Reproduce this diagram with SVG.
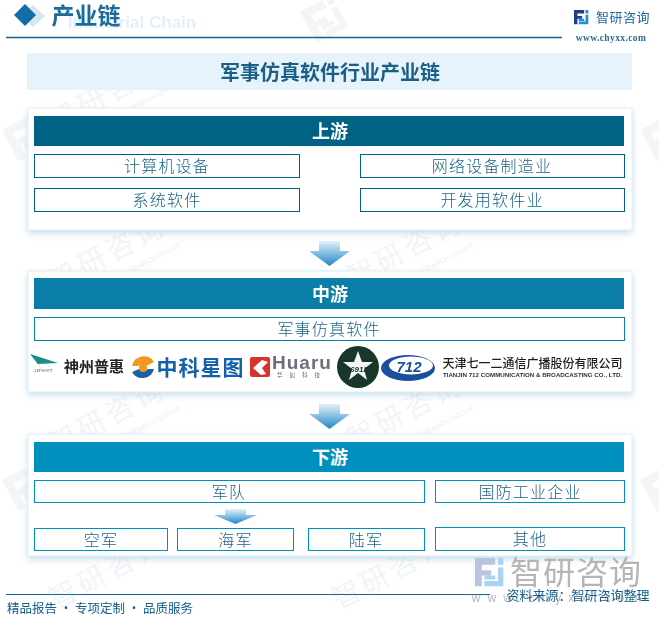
<svg xmlns="http://www.w3.org/2000/svg" width="659" height="623" viewBox="0 0 659 623">
<style>
text{font-family:"Noto Sans CJK SC","Noto Sans",sans-serif;text-anchor:middle}
.serif{font-family:"Liberation Serif","Noto Sans CJK SC",serif;font-weight:700}
.panel{fill:#fff;stroke:#deedf7;stroke-width:1;filter:url(#sh)}
.hd{fill:#fff;font-size:18px;font-weight:700}
.lb{font-size:16px;fill:#1a6285;font-weight:300;letter-spacing:1.200px}
.b1,.b2,.b3{fill:#fff;stroke-width:1}
.b1{stroke:#006385}.b2{stroke:#0a7ea6}.b3{stroke:#0090bd}
.wm{font-size:28px;fill:#8a9aa8;opacity:.1;letter-spacing:4px}
.wm2{font-size:7px;fill:#8a9aa8;opacity:.16;font-family:"Liberation Sans",sans-serif}
</style>
<defs>
<filter id="sh" x="-5%" y="-10%" width="110%" height="125%"><feDropShadow dx="0" dy="3" stdDeviation="3" flood-color="#9cc6e2" flood-opacity=".55"/></filter>
<linearGradient id="ag" x1="0" y1="0" x2="0" y2="1"><stop offset="0" stop-color="#e4f2fb"/><stop offset="1" stop-color="#1f86c8"/></linearGradient>
<path id="arrow" d="M-10 0H11V10H21L0.500 25L-20 10H-10Z" fill="url(#ag)"/>
<path id="markA" d="M0 0H15V5H5V9H12V13H5V21H0Z"/>
<path id="markB" d="M17 0H21V5H17ZM17 7H21V21H7V17H17ZM7 13H15V16H7Z"/>
</defs>
<rect width="659" height="623" fill="#fff"/>
<g id="watermarks">
<text class="wm" x="112" y="102" transform="rotate(-28 112 102)">智研咨询</text>
<text class="wm" x="112" y="262" transform="rotate(-28 112 262)">智研咨询</text>
<text class="wm" x="112" y="425" transform="rotate(-28 112 425)">智研咨询</text>
<text class="wm" x="112" y="580" transform="rotate(-28 112 580)">智研咨询</text>
<text class="wm" x="410" y="258" transform="rotate(-28 410 258)">智研咨询</text>
<text class="wm" x="410" y="420" transform="rotate(-28 410 420)">智研咨询</text>
<text class="wm" x="395" y="580" transform="rotate(-28 395 580)">智研咨询</text>
<text class="wm2" x="152" y="100" transform="rotate(-28 152 100)">RESEARCH GROUP</text>
<text class="wm2" x="152" y="262" transform="rotate(-28 152 262)">RESEARCH GROUP</text>
<text class="wm2" x="152" y="425" transform="rotate(-28 152 425)">RESEARCH GROUP</text>
<text class="wm2" x="445" y="262" transform="rotate(-28 445 262)">RESEARCH GROUP</text>
<text class="wm2" x="445" y="425" transform="rotate(-28 445 425)">RESEARCH GROUP</text>
<g fill="#8a9aa8" opacity=".1">
<use href="#markA" transform="translate(2 130) rotate(-28) scale(1.700)"/><use href="#markB" transform="translate(2 130) rotate(-28) scale(1.700)"/>
<use href="#markA" transform="translate(2 480) rotate(-28) scale(1.700)"/><use href="#markB" transform="translate(2 480) rotate(-28) scale(1.700)"/>
<use href="#markA" transform="translate(300 12) rotate(-28) scale(1.700)"/><use href="#markB" transform="translate(300 12) rotate(-28) scale(1.700)"/>
<use href="#markA" transform="translate(640 130) rotate(-28) scale(1.700)"/>
<use href="#markA" transform="translate(640 480) rotate(-28) scale(1.700)"/>
</g>
</g>
<g id="header">
<text x="132" y="28" font-size="17" font-weight="700" fill="#e3f0fa" style="font-family:'Liberation Sans',sans-serif">Industrial Chain</text>
<path d="M33 5L45 16L33 27L21 16Z" fill="#d5e6f1"/>
<path d="M25 4L36 15L25 26L14 15Z" fill="#126ca6"/>
<text class="serif" x="86" y="24" font-size="23" fill="#1a6a9a">产业链</text>
<line x1="6" y1="37.500" x2="562" y2="37.500" stroke="#1a5f85" stroke-width="1.300"/>
<g id="brand">
<use href="#markA" fill="#1d3f8a" transform="translate(574 10) scale(.68)"/>
<use href="#markB" fill="#1e8fd5" transform="translate(574 10) scale(.68)"/>
<text x="623" y="22" font-size="13" fill="#1a6a9a" letter-spacing=".5">智研咨询</text>
<text x="611" y="41" font-size="9.500" class="serif" fill="#2d6b8f" letter-spacing=".4">www.chyxx.com</text>
</g>
</g>
<g id="title">
<rect x="27" y="53" width="605" height="37" fill="#e6f3fb"/>
<text class="serif" x="330" y="80" font-size="20" fill="#1a5f85">军事仿真软件行业产业链</text>
</g>
<g id="upstream">
<rect class="panel" x="28" y="108" width="604" height="122"/>
<rect x="34" y="116" width="590" height="30" fill="#006385"/>
<text class="hd" x="330" y="138">上游</text>
</g>
<g id="up-1"><rect class="b1" x="34.500" y="154.500" width="265" height="23"/><text class="lb" x="167" y="172">计算机设备</text></g>
<g id="up-2"><rect class="b1" x="360.500" y="154.500" width="264" height="23"/><text class="lb" x="492" y="172">网络设备制造业</text></g>
<g id="up-3"><rect class="b1" x="34.500" y="188.500" width="265" height="23"/><text class="lb" x="167" y="206">系统软件</text></g>
<g id="up-4"><rect class="b1" x="360.500" y="188.500" width="264" height="23"/><text class="lb" x="492" y="206">开发用软件业</text></g>
<g id="midstream">
<rect class="panel" x="28" y="271" width="604" height="121"/>
<rect x="34" y="278" width="590" height="31" fill="#0a7ea6"/>
<text class="hd" x="330" y="301">中游</text>
</g>
<g id="mid-1"><rect class="b2" x="34.500" y="317.500" width="590" height="23"/><text class="lb" x="329" y="335">军事仿真软件</text></g>
<g id="logos">
<g id="logo-appsoft">
<path d="M30 354L58 363L38 364L44 372Z" fill="#1b8c8a"/>
<text x="43" y="372" font-size="4.500" fill="#555" style="font-family:'Liberation Serif',serif">APPSOFT</text>
<text x="94" y="372" font-size="15" font-weight="700" fill="#222">神州普惠</text>
</g>
<g id="logo-geovis">
<path d="M132 366A12 12 0 0 1 154 362L146 366A6 6 0 0 0 138 366Z" fill="#ef9a1f"/>
<path d="M154 369A12 12 0 0 1 132 372L139 369A6 6 0 0 0 148 369Z" fill="#1b5fa8"/>
<circle cx="143" cy="368" r="4" fill="#ef9a1f"/>
<text x="200.500" y="375" font-size="21" font-weight="700" fill="#1560ab" letter-spacing="1">中科星图</text>
</g>
<g id="logo-huaru">
<rect x="250" y="357" width="20" height="20" rx="2" fill="#d8322c"/>
<path d="M253 368L262 360L268 362L262 368L266 374L261 375Z" fill="#fff"/>
<text x="302" y="369" font-size="19" font-weight="700" fill="#6a6f78" letter-spacing="1" style="font-family:'Liberation Sans',sans-serif">Huaru</text>
<text x="302" y="377" font-size="5.500" fill="#666" letter-spacing="7">华如科技</text>
</g>
<g id="logo-6912">
<circle cx="358" cy="367" r="21" fill="#17372a"/>
<path d="M358 351L362 362L373 362L364 369L367 380L358 373L349 380L352 369L343 362L354 362Z" fill="#f2f5f2"/>
<text x="359" y="372" font-size="8" font-weight="700" font-style="italic" fill="#17372a" style="font-family:'Liberation Sans',sans-serif">6912</text>
</g>
<g id="logo-712">
<ellipse cx="408" cy="368" rx="27" ry="13" fill="#1a4f9e"/>
<ellipse cx="411" cy="365.500" rx="22" ry="9" fill="#fff"/>
<text x="409" y="372" font-size="15" font-weight="700" font-style="italic" fill="#1a4f9e" style="font-family:'Liberation Sans',sans-serif">712</text>
<text x="532.500" y="368" font-size="12" font-weight="500" fill="#1c1c1c">天津七一二通信广播股份有限公司</text>
<text x="532.500" y="377" font-size="6.200" font-weight="700" fill="#333" style="font-family:'Liberation Sans',sans-serif">TIANJIN 712 COMMUNICATION &amp; BROADCASTING CO., LTD.</text>
</g>
</g>
<g id="downstream">
<rect class="panel" x="28" y="434" width="604" height="122"/>
<rect x="34" y="442" width="590" height="30" fill="#0090bd"/>
<text class="hd" x="330" y="464">下游</text>
</g>
<g id="connectors">
<use href="#arrow" x="329" y="241"/>
<use href="#arrow" x="329" y="404"/>
<path d="M225 509H246V515H257L235.500 524L214 515H225Z" fill="url(#ag)"/>
</g>
<g id="down-1"><rect class="b3" x="34.500" y="480.500" width="390" height="22"/><text class="lb" x="229" y="498">军队</text></g>
<g id="down-2"><rect class="b3" x="435.500" y="480.500" width="189" height="22"/><text class="lb" x="530" y="498">国防工业企业</text></g>
<g id="down-3"><rect class="b3" x="34.500" y="528.500" width="133" height="22"/><text class="lb" x="101" y="546">空军</text></g>
<g id="down-4"><rect class="b3" x="177.500" y="528.500" width="116" height="22"/><text class="lb" x="235.500" y="546">海军</text></g>
<g id="down-5"><rect class="b3" x="308.500" y="528.500" width="116" height="22"/><text class="lb" x="366" y="546">陆军</text></g>
<g id="down-6"><rect class="b3" x="435.500" y="527.500" width="189" height="23"/><text class="lb" x="530" y="545">其他</text></g>
<g id="footer">
<use href="#markA" fill="#b9c5dc" transform="translate(475 558) scale(1.350)"/>
<use href="#markB" fill="#a9d3f0" transform="translate(475 558) scale(1.350)"/>
<text x="576" y="584" font-size="32" fill="#b5b5b5" letter-spacing="1">智研咨询</text>
<text x="560" y="602" font-size="12" fill="#b5b5b5" letter-spacing="7" style="font-family:'Liberation Sans',sans-serif">www.chyxx.com</text>
<line x1="6" y1="594.500" x2="490" y2="594.500" stroke="#0f6a98" stroke-width="1.200"/>
<text x="100" y="613" font-size="12.500" fill="#14608c">精品报告 · 专项定制 · 品质服务</text>
<text x="578" y="600" font-size="13" fill="#14608c">资料来源：智研咨询整理</text>
</g>
</svg>
